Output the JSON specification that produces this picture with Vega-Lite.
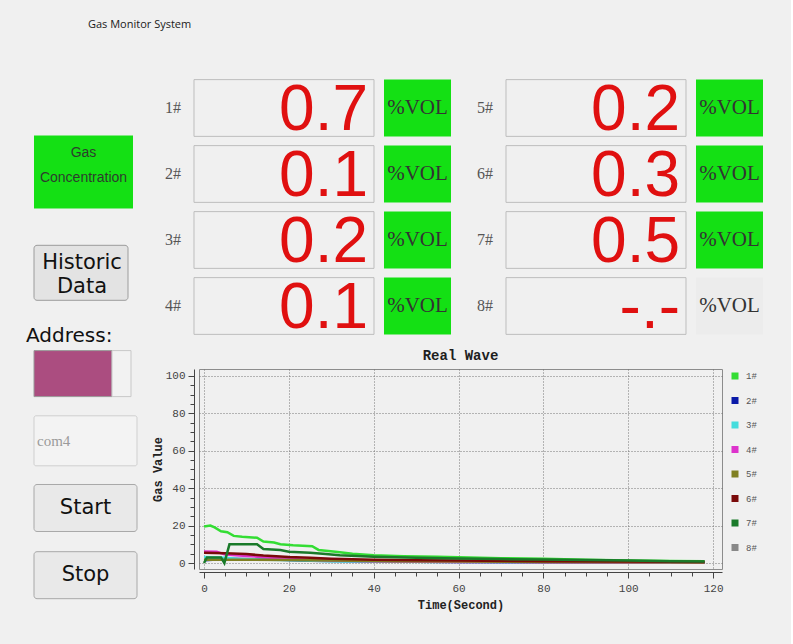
{
"$schema":"https://vega.github.io/schema/vega-lite/v6.json",
"background":"#f0f0f0",
"padding":{"left":0,"top":19,"right":20,"bottom":36},
"title":{"text":"Gas Monitor System","anchor":"start","frame":"bounds","dx":88,"font":"Open Sans","fontSize":11,"fontWeight":"normal","color":"#1a1a1a","offset":45},
"config":{"view":{"stroke":null}},
"datasets":{
"side":[
{"item":"Gas Concentration","kind":"indicator","label":"Gas\nConcentration"},
{"item":"Historic Data","kind":"tallbutton","label":"Historic\nData"},
{"item":"Address","kind":"label","label":"Address:"},
{"item":"Address value","kind":"input","label":""},
{"item":"Port","kind":"combo","label":"com4"},
{"item":"Start","kind":"button","label":"Start"},
{"item":"Stop","kind":"button","label":"Stop"}
],
"readings":[
{"ch":"1#","group":"A","value":"0.7","status":"on","unit":"%VOL"},
{"ch":"2#","group":"A","value":"0.1","status":"on","unit":"%VOL"},
{"ch":"3#","group":"A","value":"0.2","status":"on","unit":"%VOL"},
{"ch":"4#","group":"A","value":"0.1","status":"on","unit":"%VOL"},
{"ch":"5#","group":"B","value":"0.2","status":"on","unit":"%VOL"},
{"ch":"6#","group":"B","value":"0.3","status":"on","unit":"%VOL"},
{"ch":"7#","group":"B","value":"0.5","status":"on","unit":"%VOL"},
{"ch":"8#","group":"B","value":"-.-","status":"off","unit":"%VOL"}
],
"lines":[
{"ch":"1#","t":0,"v":19.5},{"ch":"1#","t":1.5,"v":20},{"ch":"1#","t":2.5,"v":19},{"ch":"1#","t":4,"v":17},{"ch":"1#","t":5.5,"v":16.5},{"ch":"1#","t":7,"v":14.5},{"ch":"1#","t":9,"v":14},{"ch":"1#","t":12.5,"v":13.5},{"ch":"1#","t":14,"v":11.5},{"ch":"1#","t":16.5,"v":11},{"ch":"1#","t":18,"v":10},{"ch":"1#","t":21,"v":9.5},{"ch":"1#","t":25.5,"v":9},{"ch":"1#","t":27,"v":7},{"ch":"1#","t":31,"v":6},{"ch":"1#","t":35,"v":5},{"ch":"1#","t":40,"v":4.2},{"ch":"1#","t":47,"v":3.6},{"ch":"1#","t":55,"v":3.3},{"ch":"1#","t":60,"v":3.1},{"ch":"1#","t":70,"v":2.6},{"ch":"1#","t":80,"v":2.3},{"ch":"1#","t":90,"v":1.8},{"ch":"1#","t":100,"v":1.4},{"ch":"1#","t":110,"v":1.1},{"ch":"1#","t":118,"v":0.9},
{"ch":"2#","t":0,"v":1.5},{"ch":"2#","t":6,"v":2.3},{"ch":"2#","t":12,"v":2},{"ch":"2#","t":18,"v":1.7},{"ch":"2#","t":25,"v":1.2},{"ch":"2#","t":40,"v":0.8},{"ch":"2#","t":60,"v":0.5},{"ch":"2#","t":80,"v":0.4},{"ch":"2#","t":100,"v":0.3},{"ch":"2#","t":118,"v":0.2},
{"ch":"3#","t":0,"v":3.2},{"ch":"3#","t":5,"v":2.8},{"ch":"3#","t":8,"v":2.2},{"ch":"3#","t":15,"v":1.8},{"ch":"3#","t":22,"v":1.5},{"ch":"3#","t":30,"v":1},{"ch":"3#","t":45,"v":0.7},{"ch":"3#","t":60,"v":0.5},{"ch":"3#","t":80,"v":0.4},{"ch":"3#","t":100,"v":0.3},{"ch":"3#","t":118,"v":0.2},
{"ch":"4#","t":0,"v":6.2},{"ch":"4#","t":3,"v":6},{"ch":"4#","t":5,"v":4.5},{"ch":"4#","t":10,"v":3.8},{"ch":"4#","t":20,"v":2.2},{"ch":"4#","t":30,"v":1.3},{"ch":"4#","t":40,"v":0.9},{"ch":"4#","t":60,"v":0.6},{"ch":"4#","t":80,"v":0.4},{"ch":"4#","t":100,"v":0.3},{"ch":"4#","t":118,"v":0.3},
{"ch":"5#","t":0,"v":1.8},{"ch":"5#","t":10,"v":1.8},{"ch":"5#","t":20,"v":1.6},{"ch":"5#","t":30,"v":1.3},{"ch":"5#","t":45,"v":1},{"ch":"5#","t":60,"v":0.8},{"ch":"5#","t":80,"v":0.5},{"ch":"5#","t":100,"v":0.4},{"ch":"5#","t":118,"v":0.3},
{"ch":"6#","t":0,"v":5.5},{"ch":"6#","t":5,"v":5.2},{"ch":"6#","t":10,"v":4.8},{"ch":"6#","t":14,"v":4},{"ch":"6#","t":20,"v":3.2},{"ch":"6#","t":25,"v":2.8},{"ch":"6#","t":30,"v":2.3},{"ch":"6#","t":40,"v":1.8},{"ch":"6#","t":50,"v":1.5},{"ch":"6#","t":60,"v":1.3},{"ch":"6#","t":80,"v":1},{"ch":"6#","t":100,"v":0.8},{"ch":"6#","t":118,"v":0.6},
{"ch":"7#","t":0,"v":0},{"ch":"7#","t":0.7,"v":3},{"ch":"7#","t":4,"v":3},{"ch":"7#","t":4.8,"v":0},{"ch":"7#","t":6,"v":10},{"ch":"7#","t":12.5,"v":10},{"ch":"7#","t":14,"v":7.5},{"ch":"7#","t":18,"v":7},{"ch":"7#","t":20,"v":6},{"ch":"7#","t":25,"v":5.5},{"ch":"7#","t":28,"v":5},{"ch":"7#","t":32,"v":4.2},{"ch":"7#","t":40,"v":3.4},{"ch":"7#","t":50,"v":2.8},{"ch":"7#","t":60,"v":2.4},{"ch":"7#","t":70,"v":2.1},{"ch":"7#","t":80,"v":1.9},{"ch":"7#","t":90,"v":1.6},{"ch":"7#","t":100,"v":1.3},{"ch":"7#","t":110,"v":1},{"ch":"7#","t":118,"v":0.8}
]
},
"spacing":0,
"resolve":{"scale":{"color":"independent","fill":"independent"},"legend":{"color":"independent","fill":"independent"}},
"hconcat":[
{
"width":150,"height":530,
"data":{"name":"side"},
"encoding":{"y":{"field":"item","type":"nominal","axis":null,"scale":{"domain":["s1","s2","Gas Concentration","s3","s4","Historic Data","s5","Address","Address value","s6","Port","s7","Start","s8","Stop"],"paddingInner":0,"paddingOuter":0.387}}},
"layer":[
{"transform":[{"filter":"datum.kind === 'indicator'"}],"mark":{"type":"rect","height":73,"fill":"#14e014"},"encoding":{"x":{"datum":34,"type":"quantitative","scale":{"domain":[0,150],"nice":false,"zero":false},"axis":null},"x2":{"datum":133}}},
{"transform":[{"filter":"datum.kind === 'tallbutton'"}],"mark":{"type":"rect","height":55,"fill":"#e3e3e3","stroke":"#9c9c9c","cornerRadius":3},"encoding":{"x":{"datum":34,"type":"quantitative"},"x2":{"datum":128}}},
{"transform":[{"filter":"datum.kind === 'button'"}],"mark":{"type":"rect","height":47,"fill":"#e9e9e9","stroke":"#a8a8a8","cornerRadius":3},"encoding":{"x":{"datum":34,"type":"quantitative"},"x2":{"datum":137}}},
{"transform":[{"filter":"datum.kind === 'input'"}],"mark":{"type":"rect","height":46,"fill":"#ab4d80","stroke":"#9a9a9a"},"encoding":{"x":{"datum":34,"type":"quantitative"},"x2":{"datum":112}}},
{"transform":[{"filter":"datum.kind === 'input'"}],"mark":{"type":"rect","height":46,"fill":"#f2f2f2","stroke":"#c8c8c8"},"encoding":{"x":{"datum":112,"type":"quantitative"},"x2":{"datum":131}}},
{"transform":[{"filter":"datum.kind === 'combo'"}],"mark":{"type":"rect","height":50,"fill":"#f3f3f3","stroke":"#cfcfcf","cornerRadius":2},"encoding":{"x":{"datum":34,"type":"quantitative"},"x2":{"datum":137}}},
{"transform":[{"filter":"datum.kind === 'indicator'"}],"mark":{"type":"text","align":"center","baseline":"middle","font":"Liberation Sans","fontSize":14,"color":"#2d3d2d","lineBreak":"\n","lineHeight":25,"dy":-19},"encoding":{"x":{"datum":83.5,"type":"quantitative"},"text":{"field":"label"}}},
{"transform":[{"filter":"datum.kind === 'tallbutton'"}],"mark":{"type":"text","align":"center","baseline":"middle","font":"DejaVu Sans","fontSize":21,"color":"#111111","lineBreak":"\n","lineHeight":24,"dy":-10},"encoding":{"x":{"datum":82,"type":"quantitative"},"text":{"field":"label"}}},
{"transform":[{"filter":"datum.kind === 'button'"}],"mark":{"type":"text","align":"center","baseline":"middle","font":"DejaVu Sans","fontSize":21,"color":"#111111"},"encoding":{"x":{"datum":85.5,"type":"quantitative"},"text":{"field":"label"}}},
{"transform":[{"filter":"datum.kind === 'label'"}],"mark":{"type":"text","align":"left","baseline":"middle","font":"DejaVu Sans","fontSize":20,"color":"#111111","dy":-4},"encoding":{"x":{"datum":26,"type":"quantitative"},"text":{"field":"label"}}},
{"transform":[{"filter":"datum.kind === 'combo'"}],"mark":{"type":"text","align":"left","baseline":"middle","font":"Liberation Serif","fontSize":15,"color":"#9a9a9a"},"encoding":{"x":{"datum":37,"type":"quantitative"},"text":{"field":"label"}}}
]
},
{
"columns":1,"spacing":7,
"resolve":{"scale":{"color":"independent","fill":"independent"},"legend":{"color":"independent","fill":"independent"}},
"concat":[
{
"data":{"name":"readings"},
"facet":{"column":{"field":"group","type":"nominal","header":{"labels":false,"title":null}}},
"spacing":18,
"resolve":{"scale":{"y":"independent"}},
"spec":{
"width":260,"height":264,
"encoding":{"y":{"field":"ch","type":"nominal","axis":null,"scale":{"paddingInner":0.14,"paddingOuter":0.07}}},
"layer":[
{"mark":{"type":"text","align":"left","baseline":"middle","font":"Liberation Serif","fontSize":16,"color":"#555555"},"encoding":{"x":{"datum":15,"type":"quantitative","scale":{"domain":[49,309],"nice":false,"zero":false},"axis":null},"text":{"field":"ch"}}},
{"mark":{"type":"rect","fill":"#f0f0f0","stroke":"#bdbdbd","strokeWidth":1},"encoding":{"x":{"datum":44,"type":"quantitative"},"x2":{"datum":224}}},
{"mark":{"type":"text","align":"right","baseline":"middle","font":"Liberation Sans","fontSize":64,"color":"#e01010","dy":3},"encoding":{"x":{"datum":218,"type":"quantitative"},"text":{"field":"value"}}},
{"mark":{"type":"rect"},"encoding":{"x":{"datum":234,"type":"quantitative"},"x2":{"datum":301},"fill":{"field":"status","type":"nominal","scale":{"domain":["on","off"],"range":["#14e014","#ececec"]},"legend":null}}},
{"mark":{"type":"text","align":"center","baseline":"middle","font":"Liberation Serif","fontSize":21,"color":"#333333"},"encoding":{"x":{"datum":267.5,"type":"quantitative"},"text":{"field":"unit"}}}
]
}
},
{
"width":523,"height":200,
"data":{"name":"lines"},
"view":{"stroke":"#8c8c8c"},
"title":{"text":"Real Wave","font":"Liberation Mono","fontSize":14,"fontWeight":"bold","color":"#1e1e1e","anchor":"middle","frame":"group","offset":6},
"mark":{"type":"line","strokeWidth":2.5},
"encoding":{
"x":{"field":"t","type":"quantitative","scale":{"domain":[-1.18,122.1],"nice":false,"zero":false},
"axis":{"values":[0,5,10,15,20,25,30,35,40,45,50,55,60,65,70,75,80,85,90,95,100,105,110,115,120],"labelExpr":"datum.value % 20 === 0 ? datum.label : ''","grid":true,"gridDash":[1,2],"gridColor":"#777777","gridOpacity":{"condition":{"test":"datum.value % 20 === 0","value":1},"value":0},"tickSize":{"condition":{"test":"datum.value % 20 === 0","value":6},"value":4},"offset":3,"domainColor":"#444444","tickColor":"#444444","labelFont":"Liberation Mono","labelFontSize":11,"labelColor":"#444444","labelPadding":4,"title":"Time(Second)","titleFont":"Liberation Mono","titleFontSize":12,"titleFontWeight":"bold","titleColor":"#222222","titlePadding":6}},
"y":{"field":"v","type":"quantitative","scale":{"domain":[-3.2,103.7],"nice":false,"zero":false},
"axis":{"values":[0,5,10,15,20,25,30,35,40,45,50,55,60,65,70,75,80,85,90,95,100],"labelExpr":"datum.value % 20 === 0 ? datum.label : ''","grid":true,"gridDash":[1,2],"gridColor":"#777777","gridOpacity":{"condition":{"test":"datum.value % 20 === 0","value":1},"value":0},"tickSize":{"condition":{"test":"datum.value % 20 === 0","value":6},"value":4},"offset":5,"domainColor":"#444444","tickColor":"#444444","labelFont":"Liberation Mono","labelFontSize":11,"labelColor":"#444444","labelPadding":3,"title":"Gas Value","titleFont":"Liberation Mono","titleFontSize":12,"titleFontWeight":"bold","titleColor":"#222222","titlePadding":1}},
"color":{"field":"ch","type":"nominal","scale":{"domain":["1#","2#","3#","4#","5#","6#","7#","8#"],"range":["#33dd33","#0a1aa8","#44dddd","#dd33cc","#808022","#7a0a0a","#1a7a2a","#888888"]},
"legend":{"orient":"right","offset":6,"padding":0,"title":null,"symbolType":"stroke","symbolSize":49,"symbolStrokeWidth":7,"rowPadding":-3.5,"labelFont":"Liberation Mono","labelFontSize":9,"labelColor":"#555555","labelOffset":4}}
}
}
]
}
]
}
